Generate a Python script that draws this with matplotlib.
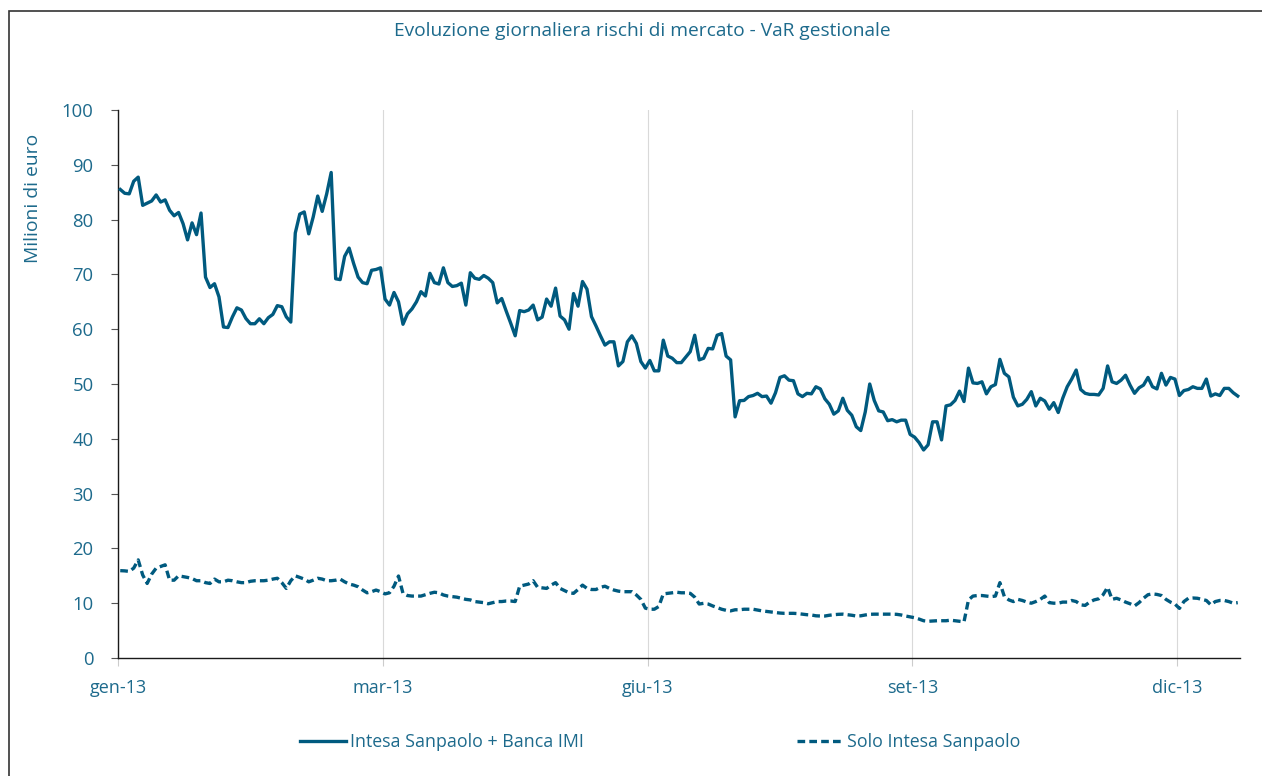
import matplotlib
matplotlib.use("Agg")
import matplotlib.pyplot as plt
from matplotlib.patches import Rectangle
import numpy as np

plt.rcParams['font.family'] = ['Open Sans', 'DejaVu Sans']

title = "Evoluzione giornaliera rischi di mercato - VaR gestionale"
ylabel = "Milioni di euro"
series_names = ["Intesa Sanpaolo + Banca IMI", "Solo Intesa Sanpaolo"]
month_labels = ["gen-13", "mar-13", "giu-13", "set-13", "dic-13"]
label_every = 59  # trading days between labels

var_total = [
    85.5, 84.8, 84.7, 87.0, 87.75, 82.6, 83.0, 83.4, 84.5, 83.2,
    83.6, 81.7, 80.7, 81.3, 79.25, 76.3, 79.4, 77.25, 81.2, 69.5,
    67.6, 68.3, 65.9, 60.4, 60.3, 62.25, 63.9, 63.5, 61.95, 61.0,
    61.0, 61.9, 61.0, 62.1, 62.7, 64.3, 64.1, 62.25, 61.3, 77.55,
    81.0, 81.4, 77.4, 80.5, 84.3, 81.5, 84.7, 88.6, 69.2, 69.05,
    73.3, 74.8, 72.0, 69.5, 68.5, 68.3, 70.75, 70.9, 71.2, 65.5,
    64.4, 66.7, 65.0, 60.9, 62.8, 63.7, 65.0, 66.85, 66.06, 70.2,
    68.5, 68.25, 71.2, 68.5, 67.8, 67.95, 68.4, 64.4, 70.3, 69.3,
    69.1, 69.8, 69.3, 68.5, 64.8, 65.6, 63.3, 61.1, 58.8, 63.4,
    63.2, 63.5, 64.4, 61.7, 62.2, 65.5, 64.2, 67.5, 62.4, 61.7,
    60.0, 66.5, 64.2, 68.7, 67.3, 62.3, 60.6, 58.8, 57.1, 57.7,
    57.7, 53.3, 54.1, 57.7, 58.8, 57.4, 54.1, 52.9, 54.3, 52.4,
    52.4, 58.0, 55.1, 54.7, 53.9, 53.9, 54.9, 55.9, 58.9, 54.4,
    54.7, 56.5, 56.4, 58.9, 59.2, 55.1, 54.4, 44.0, 46.95, 47.0,
    47.7, 47.9, 48.3, 47.7, 47.8, 46.5, 48.4, 51.2, 51.5, 50.7,
    50.6, 48.2, 47.7, 48.3, 48.2, 49.5, 49.1, 47.3, 46.3, 44.5,
    45.1, 47.4, 45.2, 44.3, 42.2, 41.5, 44.9, 50.0, 47.0, 45.1,
    44.9, 43.3, 43.5, 43.1, 43.4, 43.4, 40.8, 40.3, 39.3, 37.96,
    38.9, 43.1, 43.1, 39.8, 46.0, 46.2, 47.0, 48.7, 46.8, 52.9,
    50.2, 50.1, 50.4, 48.2, 49.5, 49.9, 54.5, 51.95, 51.3, 47.6,
    46.0, 46.3, 47.2, 48.6, 46.0, 47.4, 46.9, 45.4, 46.6, 44.8,
    47.4, 49.5, 50.9, 52.55, 49.0, 48.3, 48.1, 48.1, 48.0, 49.2,
    53.3, 50.4, 50.1, 50.7, 51.6, 49.8, 48.3, 49.3, 49.8, 51.2,
    49.5, 49.1, 51.95, 49.8, 51.2, 50.9, 47.9, 48.8, 49.0, 49.5,
    49.2, 49.2, 50.9, 47.8, 48.2, 47.9, 49.2, 49.2, 48.4, 47.8,
]

var_isp = [
    15.94, 15.9, 15.8, 16.4, 17.9, 15.15, 13.6, 15.3, 16.4, 16.7,
    17.0, 14.2, 14.2, 15.0, 14.85, 14.7, 14.5, 14.1, 14.1, 13.75,
    13.6, 14.4, 13.9, 13.9, 14.2, 14.1, 13.9, 13.75, 13.75, 14.0,
    14.1, 14.1, 14.1, 14.2, 14.4, 14.55, 13.75, 12.7, 14.1, 15.0,
    14.7, 14.4, 13.9, 14.2, 14.55, 14.4, 14.1, 14.1, 14.2, 14.4,
    13.9, 13.5, 13.3, 13.0, 12.4, 11.9, 12.1, 12.4, 12.1, 11.7,
    11.9, 13.1, 14.96, 11.8, 11.4, 11.3, 11.3, 11.3, 11.55, 11.8,
    12.0, 11.9, 11.5, 11.3, 11.2, 11.1, 10.9, 10.7, 10.6, 10.3,
    10.2, 10.1, 9.9, 10.1, 10.3, 10.3, 10.4, 10.4, 10.3, 13.1,
    13.3, 13.5, 14.1, 12.9, 12.8, 12.7, 13.3, 13.75, 12.7, 12.3,
    11.9, 11.8, 12.5, 13.3, 12.7, 12.5, 12.5, 12.9, 13.1, 12.7,
    12.4, 12.2, 12.1, 12.1, 12.1, 11.5, 10.7, 9.1, 8.9, 8.9,
    9.4, 11.7, 11.8, 11.9, 12.0, 11.9, 11.9, 11.8, 11.1, 9.85,
    9.98, 9.85, 9.5, 9.2, 8.9, 8.7, 8.6, 8.8, 8.8, 8.9,
    8.9, 8.9, 8.75, 8.6, 8.5, 8.4, 8.3, 8.2, 8.15, 8.15,
    8.15, 8.1, 8.0, 7.9, 7.85, 7.7, 7.66, 7.66, 7.8, 7.9,
    7.97, 8.0, 7.9, 7.8, 7.66, 7.7, 7.85, 7.97, 8.0, 8.0,
    8.0, 8.0, 8.0, 7.97, 7.85, 7.66, 7.5, 7.35, 7.1, 6.8,
    6.7, 6.75, 6.8, 6.8, 6.8, 6.9, 6.8, 6.7, 6.6, 10.6,
    11.3, 11.4, 11.4, 11.3, 11.2, 11.3, 13.75, 11.2, 10.6, 10.3,
    10.7, 10.5, 10.2, 10.0, 10.3, 10.7, 11.3, 10.1, 10.0, 10.0,
    10.2, 10.2, 10.5, 10.3, 9.7, 9.6, 10.2, 10.6, 10.8, 11.55,
    12.9, 10.7, 10.9, 10.6, 10.2, 9.9, 9.5, 10.1, 10.9, 11.55,
    11.7, 11.6, 11.4, 10.7, 10.2, 9.85, 9.05, 10.3, 10.9, 10.95,
    10.9, 10.7, 10.5, 9.7, 10.3, 10.5, 10.5, 10.3, 10.0, 10.1,
]

LINE = '#005a7f'
TEXT = '#1d6a8c'

W, H = 1262, 776
fig = plt.figure(figsize=(W / 100, H / 100), dpi=100)
ax = fig.add_axes([118 / W, 1 - 658 / H, (1240 - 118) / W, (658 - 110) / H])

x = np.arange(len(var_total))
ax.plot(x, var_total, color=LINE, lw=2.4, solid_joinstyle='round',
        label=series_names[0], zorder=3)
ax.plot(x, var_isp, color=LINE, lw=2.4, dashes=(2.3, 1.25),
        label=series_names[1], zorder=3)

n = len(var_total)
ax.set_xlim(-0.5, n - 0.5)
ax.set_ylim(0, 100)
ax.set_yticks(np.arange(0, 101, 10))
xt = [-0.5 + k * label_every for k in range(len(month_labels))]
ax.set_xticks(xt)
ax.set_xticklabels(month_labels)
ax.grid(axis='x', color='#d9d9d9', lw=0.8)
ax.set_axisbelow(True)

for s in ['top', 'right']:
    ax.spines[s].set_visible(False)
for s in ['left', 'bottom']:
    ax.spines[s].set_color('#1a1a1a')
    ax.spines[s].set_linewidth(1.0)

ax.tick_params(axis='y', direction='out', length=5, width=0.8, color='#555555',
               labelcolor=TEXT, labelsize=13.3, pad=12.5)
ax.tick_params(axis='x', direction='out', length=6, width=0.8, color='#cccccc',
               labelcolor=TEXT, labelsize=13, pad=9)

ax.set_ylabel(ylabel, color=TEXT, fontsize=13.9)
ax.yaxis.set_label_coords(-0.0675, 0.839)

fig.text(642 / W, 1 - 31 / H, title, color=TEXT, fontsize=13.75,
         ha='center', va='center')

leg = fig.legend(loc='center', bbox_to_anchor=(660 / W, 1 - 742 / H), ncol=2,
                 frameon=False, fontsize=12.8, handlelength=2.6,
                 handletextpad=0.2, columnspacing=12.0)
for t in leg.get_texts():
    t.set_color(TEXT)

fig.patches.append(Rectangle((9 / W, -0.05), 1.1, 1.05 - 11 / H,
                             transform=fig.transFigure, fill=False,
                             edgecolor='#333333', lw=1.2))

fig.savefig('out.png', dpi=100)
